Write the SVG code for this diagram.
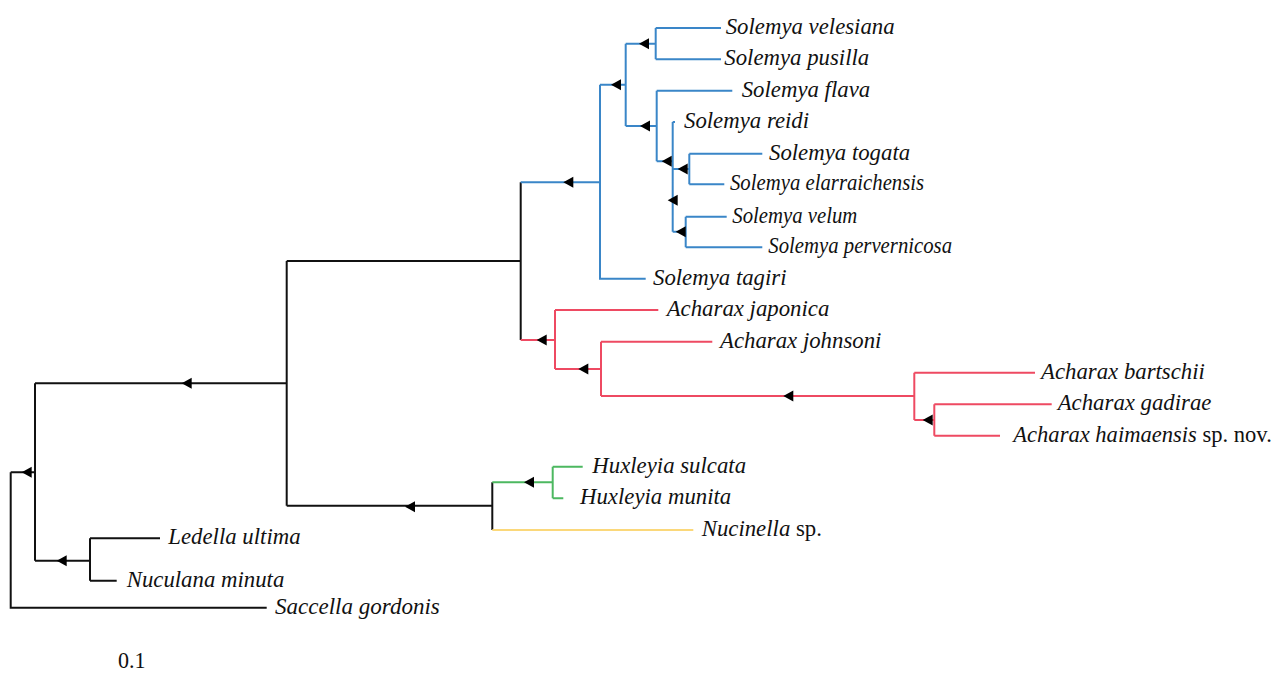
<svg xmlns="http://www.w3.org/2000/svg" xmlns:xlink="http://www.w3.org/1999/xlink" width="1277" height="691" viewBox="0 0 1277 691">
<defs>
<style>
.t{font-family:"Liberation Serif","Times New Roman",serif;font-size:24px;font-style:italic;fill:#111}
.u{font-style:normal}
.k{stroke:#111;stroke-width:2;fill:none}
.b{stroke:#3a86c8;stroke-width:2;fill:none}
.r{stroke:#ee4a62;stroke-width:2;fill:none}
.g{stroke:#4cb860;stroke-width:2;fill:none}
.y{stroke:#fbd87a;stroke-width:2;fill:none}
</style>
<path id="a" d="M0,0 L10,-5.5 L10,5.5 Z" fill="#000"/>
</defs>
<rect width="1277" height="691" fill="#fff"/>
<g id="connectors">
<path class="k" d="M10.7,472.3 V607.7 H266.7 M10.7,472.3 H35 M35,383.3 V560.7 M35,383.3 H286.7 M35,560.7 H90 M90,538.3 V580.7 M90,538.3 H160 M90,580.7 H116.7 M286.7,261 V505.7 M286.7,261 H520.7 M286.7,505.7 H492.3 M520.7,182.3 V340 M492.3,482.3 V530"/>
<path class="b" d="M520.7,182.3 H600 M600,84.7 V278.7 H645.7 M600,84.7 H625.7 M625.7,43.7 V126 M625.7,43.7 H655.7 M655.7,28 V59.3 M655.7,28 H721 M655.7,59.3 H721 M625.7,126 H656.7 M656.7,90.7 V161.3 M656.7,90.7 H732.3 M656.7,161.3 H672.7 M672.7,122 V231.7 M672.7,122 H675 M672.7,169 H689.3 M689.3,153.7 V184.3 M689.3,153.7 H762.3 M689.3,184.3 H724.3 M672.7,231.7 H685.7 M685.7,216.7 V247.3 M685.7,216.7 H726.7 M685.7,247.3 H762.3"/>
<path class="r" d="M520.7,340 H555 M555,310 V369 M555,310 H658.3 M555,369 H601 M601,341.7 V396 M601,341.7 H712.3 M601,396 H914.3 M914.3,372.7 V420 M914.3,372.7 H1035 M914.3,420 H934.3 M934.3,404.3 V435.7 M934.3,404.3 H1051.7 M934.3,435.7 H1000"/>
<path class="g" d="M492.3,482.3 H552.7 M552.7,466.7 V498.3 M552.7,466.7 H582.7 M552.7,498.3 H563.3"/>
<path class="y" d="M492.3,530 H693.3"/>
<use href="#a" x="563.3" y="182.3"/>
<use href="#a" x="611" y="84.7"/>
<use href="#a" x="639" y="43.7"/>
<use href="#a" x="640" y="126"/>
<use href="#a" x="661.7" y="161.3"/>
<use href="#a" x="677.7" y="169"/>
<use href="#a" x="667.7" y="200.3"/>
<use href="#a" x="675.7" y="231.7"/>
<use href="#a" x="536.7" y="340"/>
<use href="#a" x="578.3" y="369"/>
<use href="#a" x="783.3" y="396"/>
<use href="#a" x="922.7" y="420"/>
<use href="#a" x="524" y="482.3"/>
<use href="#a" x="405" y="506.7"/>
<use href="#a" x="181.7" y="383.3"/>
<use href="#a" x="56.7" y="560.7"/>
<use href="#a" x="21.7" y="472.3"/>
</g>
<g id="n-velesiana" transform="translate(725.7,34) scale(0.95,1)"><text class="t">Solemya velesiana</text></g>
<g id="n-pusilla" transform="translate(724.3,65.3) scale(0.95,1)"><text class="t">Solemya pusilla</text></g>
<g id="n-flava" transform="translate(741.7,96.7) scale(0.95,1)"><text class="t">Solemya flava</text></g>
<g id="n-reidi" transform="translate(684,128) scale(0.95,1)"><text class="t">Solemya reidi</text></g>
<g id="n-togata" transform="translate(769,159.7) scale(0.95,1)"><text class="t">Solemya togata</text></g>
<g id="n-elarraichensis" transform="translate(730,190.3) scale(0.865,1)"><text class="t">Solemya elarraichensis</text></g>
<g id="n-velum" transform="translate(732.3,222.7) scale(0.865,1)"><text class="t">Solemya velum</text></g>
<g id="n-pervernicosa" transform="translate(768.3,253.3) scale(0.865,1)"><text class="t">Solemya pervernicosa</text></g>
<g id="n-tagiri" transform="translate(653,284.7) scale(0.95,1)"><text class="t">Solemya tagiri</text></g>
<g id="n-japonica" transform="translate(666.7,316) scale(0.95,1)"><text class="t">Acharax japonica</text></g>
<g id="n-johnsoni" transform="translate(720,347.7) scale(0.95,1)"><text class="t">Acharax johnsoni</text></g>
<g id="n-bartschii" transform="translate(1041,378.7) scale(0.95,1)"><text class="t">Acharax bartschii</text></g>
<g id="n-gadirae" transform="translate(1057.7,410.3) scale(0.95,1)"><text class="t">Acharax gadirae</text></g>
<g id="n-haimaensis" transform="translate(1013.3,441.7) scale(0.94,1)"><text class="t">Acharax haimaensis<tspan class="u"> sp. nov.</tspan></text></g>
<g id="n-sulcata" transform="translate(592.3,472.7) scale(0.95,1)"><text class="t">Huxleyia sulcata</text></g>
<g id="n-munita" transform="translate(580,504.3) scale(0.95,1)"><text class="t">Huxleyia munita</text></g>
<g id="n-nucinella" transform="translate(701.7,536) scale(0.95,1)"><text class="t">Nucinella<tspan class="u"> sp.</tspan></text></g>
<g id="n-ledella" transform="translate(168.3,544.3) scale(0.95,1)"><text class="t">Ledella ultima</text></g>
<g id="n-nuculana" transform="translate(126.7,586.7) scale(0.95,1)"><text class="t">Nuculana minuta</text></g>
<g id="n-saccella" transform="translate(275,613.7) scale(0.96,1)"><text class="t">Saccella gordonis</text></g>
<g id="scale" transform="translate(118,668) scale(0.92,1)"><text class="t u">0.1</text></g>
</svg>
